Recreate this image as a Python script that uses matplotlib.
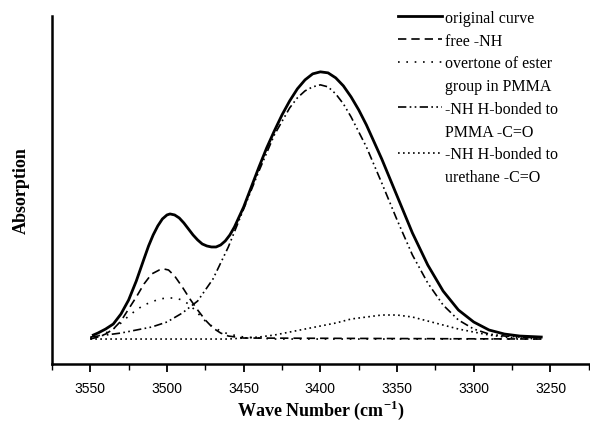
import numpy as np
import matplotlib
matplotlib.use("Agg")
import matplotlib.pyplot as plt
from matplotlib.lines import Line2D
from matplotlib.ticker import MultipleLocator

# wave numbers (cm-1) and band intensities (a.u.)
wn_orig = [3548, 3545, 3540, 3535, 3530, 3525, 3520, 3515, 3512, 3509, 3506, 3503,
           3500, 3498, 3495, 3492, 3489, 3486, 3483, 3480, 3477, 3474, 3471, 3468,
           3465, 3462, 3459, 3456, 3453, 3450, 3445, 3440, 3435, 3430, 3425, 3420,
           3415, 3410, 3405, 3400, 3395, 3390, 3385, 3380, 3375, 3370, 3360, 3350,
           3340, 3330, 3320, 3310, 3300, 3290, 3280, 3270, 3256]
original = [4, 6, 10, 15, 25, 39, 58, 80, 93, 104, 113, 120,
            124, 125, 124, 121, 116, 110, 104, 99, 95, 93, 92, 92,
            94, 98, 104, 112, 122, 132, 152, 172, 191, 208, 224, 238,
            250, 259, 265, 267, 266, 261, 253, 242, 229, 214, 180, 143,
            106, 74, 48, 29, 17, 9, 5, 3, 2]

wn_free = [3550, 3545, 3540, 3535, 3530, 3525, 3520, 3515, 3510, 3505, 3502, 3499,
           3495, 3490, 3485, 3480, 3475, 3470, 3465, 3460, 3450, 3256]
free_nh = [0, 2, 5, 10, 18, 30, 42, 55, 65, 69, 70, 69,
           63, 52, 40, 29, 19, 11, 6, 3, 1, 0]

wn_over = [3550, 3545, 3540, 3535, 3530, 3525, 3520, 3515, 3510, 3505, 3500, 3495,
           3490, 3485, 3480, 3475, 3470, 3465, 3460, 3450, 3440, 3430, 3256]
overtone = [1, 3, 6, 10, 16, 23, 29, 34, 37, 40, 41, 41,
            39, 34, 26, 18, 12, 8, 5, 2, 1, 0, 0]

wn_pmma = [3550, 3540, 3530, 3520, 3510, 3500, 3490, 3480, 3470, 3460, 3450, 3440,
           3430, 3420, 3415, 3410, 3405, 3400, 3395, 3390, 3385, 3380, 3370, 3360,
           3350, 3340, 3330, 3320, 3310, 3300, 3290, 3280, 3270, 3256]
nh_pmma = [2, 4, 6, 9, 12, 17, 26, 38, 60, 92, 130, 168,
           204, 231, 241, 248, 252, 254, 252, 245, 235, 222, 192, 156,
           119, 84, 56, 34, 19, 10, 5, 3, 2, 1]

wn_ureth = [3550, 3460, 3450, 3440, 3430, 3420, 3410, 3400, 3390, 3380, 3370, 3360,
            3350, 3340, 3330, 3320, 3310, 3300, 3290, 3280, 3270, 3256]
nh_ureth = [0, 0, 1, 2, 4, 7, 10, 13, 16, 20, 22, 24,
            24, 22, 18, 14, 10, 7, 4, 2, 1, 0]

fig = plt.figure(figsize=(5.9, 4.31), dpi=100)
ax = fig.add_axes([0.088, 0.153, 0.91, 0.808])

l0, = ax.plot(wn_orig, original, color="black", lw=2.0, solid_joinstyle="round")
l1, = ax.plot(wn_free, free_nh, color="black", lw=1.2, dashes=(5, 3))
l2, = ax.plot(wn_over, overtone, color="black", lw=1.2, dashes=(1, 4))
l3, = ax.plot(wn_pmma, nh_pmma, color="black", lw=1.2, dashes=(5, 2, 1, 2, 1, 2))
l4, = ax.plot(wn_ureth, nh_ureth, color="black", lw=1.2, dashes=(1, 2))

ax.set_xlim(3575, 3225)
ax.set_ylim(-25, 323)

ax.spines["top"].set_visible(False)
ax.spines["right"].set_visible(False)
ax.spines["left"].set_linewidth(1.8)
ax.spines["bottom"].set_linewidth(1.8)
ax.set_yticks([])
ax.xaxis.set_major_locator(MultipleLocator(50))
ax.xaxis.set_minor_locator(MultipleLocator(25))
ax.tick_params(axis="x", which="major", direction="out", length=6, width=1.3,
               labelsize=10, pad=6)
ax.tick_params(axis="x", which="minor", direction="out", length=4, width=1.0)
for lab in ax.get_xticklabels():
    lab.set_fontfamily("Liberation Sans")

ax.set_xlabel("Wave Number (cm$^{\\mathregular{-1}}$)", fontfamily="Liberation Serif",
              fontweight="bold", fontsize=13, labelpad=2)
ax.set_ylabel("Absorption", fontfamily="Liberation Serif", fontweight="bold",
              fontsize=13, labelpad=16)

# two-line entries: second line gets an empty handle
blank = Line2D([], [], linestyle="none")
handles = [l0, l1, l2, blank, l3, blank, l4, blank]
labels = ["original curve", "free -NH", "overtone of ester", "group in PMMA",
          "-NH H-bonded to", "PMMA -C=O", "-NH H-bonded to", "urethane -C=O"]
leg = ax.legend(handles, labels, loc="upper left", bbox_to_anchor=(0.632, 1.035),
                frameon=False, prop={"family": "Liberation Serif", "size": 11.5},
                handlelength=2.8, handletextpad=0.15, labelspacing=0.42,
                borderaxespad=0.0)

fig.savefig("out.png", dpi=100)
